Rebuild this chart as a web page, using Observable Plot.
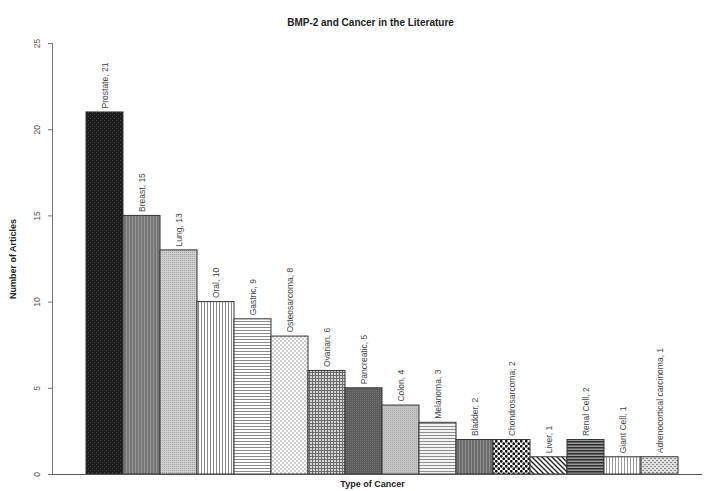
<!DOCTYPE html>
<html>
<head>
<meta charset="utf-8">
<script src="https://cdn.jsdelivr.net/npm/d3@7"></script>
<script src="https://cdn.jsdelivr.net/npm/@observablehq/plot@0.6"></script>
<style>
  body { margin: 0; background: #fff; }
  svg { font-family: "Liberation Sans", Arial, sans-serif; }
</style>
</head>
<body>
<div id="chart"></div>
<script>
const cancers = ["Prostate", "Breast", "Lung", "Oral", "Gastric", "Osteosarcoma", "Ovarian", "Pancreatic",
  "Colon", "Melanoma", "Bladder", "Chondrosarcoma", "Liver", "Renal Cell", "Giant Cell", "Adrenocortical carcinoma"];
const articles = [21, 15, 13, 10, 9, 8, 6, 5, 4, 3, 2, 2, 1, 2, 1, 1];
const yTicks = [0, 5, 10, 15, 20, 25];
const patternIds = cancers.map((_, i) => `pat${i}`);

const data = cancers.map((name, i) => ({name, count: articles[i], pattern: `url(#${patternIds[i]})`}));

const svg = Plot.plot({
  width: 706,
  height: 491,
  marginTop: 43,
  marginBottom: 17,
  marginLeft: 52,
  marginRight: 4,
  style: {background: "#fff", fontFamily: "Liberation Sans, Arial, sans-serif"},
  x: {type: "band", domain: cancers, range: [82, 682], padding: 0, axis: null},
  y: {domain: [0, 25], axis: null},
  color: {type: "identity"},
  marks: [
    Plot.barY(data, {x: "name", y: "count", fill: "pattern", stroke: "#333", strokeWidth: 1}),
    Plot.text(data, {x: "name", y: "count", text: d => `${d.name}, ${d.count}`, rotate: -90,
      textAnchor: "start", dy: -4, fontSize: 8.5, fill: "#444"}),
    Plot.frame({anchor: "left", stroke: "#777"}),
    Plot.ruleY([0], {stroke: "#555"}),
    Plot.axisY(yTicks, {tickSize: 4, tickFormat: () => "", label: null, stroke: "#777"}),
    Plot.text(yTicks, {y: d => d, frameAnchor: "left", dx: -15, rotate: -90, textAnchor: "middle",
      fontSize: 8.5, fill: "#555"}),
    Plot.text(["Number of Articles"], {frameAnchor: "left", dx: -39, rotate: -90, textAnchor: "middle",
      fontSize: 9, fontWeight: "bold", fill: "#222"}),
    Plot.text(["BMP-2 and Cancer in the Literature"], {frameAnchor: "top", dy: -25, dx: -7,
      fontSize: 10, fontWeight: "bold", fill: "#222"}),
    Plot.text(["Type of Cancer"], {frameAnchor: "bottom", dy: 12, dx: -5,
      fontSize: 9, fontWeight: "bold", fill: "#222"})
  ]
});

// pattern definitions
const defs = d3.select(svg).insert("defs", ":first-child");
function pat(id, w, h, bg, draw) {
  const p = defs.append("pattern").attr("id", id).attr("patternUnits", "userSpaceOnUse")
    .attr("width", w).attr("height", h);
  p.append("rect").attr("width", w).attr("height", h).attr("fill", bg);
  draw(p);
}
const rect = (p, x, y, w, h, c) => p.append("rect").attr("x", x).attr("y", y).attr("width", w).attr("height", h).attr("fill", c);

// 0 Prostate: near-black with fine dots
pat(patternIds[0], 4, 4, "#1b1b1b", p => { rect(p, 0, 0, 1, 1, "#4c4c4c"); rect(p, 2, 2, 1, 1, "#4c4c4c"); });
// 1 Breast: medium gray fine vertical
pat(patternIds[1], 3, 3, "#777", p => { rect(p, 0, 0, 1, 3, "#959595"); });
// 2 Lung: light gray fine stipple
pat(patternIds[2], 2, 2, "#cfcfcf", p => { rect(p, 0, 0, 1, 1, "#a6a6a6"); });
// 3 Oral: vertical lines on white
pat(patternIds[3], 3, 3, "#fff", p => { rect(p, 0, 0, 1, 3, "#8a8a8a"); });
// 4 Gastric: horizontal lines on white
pat(patternIds[4], 3, 3, "#fff", p => { rect(p, 0, 0, 3, 1, "#8a8a8a"); });
// 5 Osteosarcoma: light sparse checker dots
pat(patternIds[5], 4, 4, "#fff", p => { rect(p, 0, 0, 2, 2, "#cdcdcd"); rect(p, 2, 2, 2, 2, "#cdcdcd"); });
// 6 Ovarian: grid
pat(patternIds[6], 3, 3, "#d6d6d6", p => { rect(p, 0, 0, 1, 3, "#6a6a6a"); rect(p, 0, 0, 3, 1, "#6a6a6a"); });
// 7 Pancreatic: dark gray fine
pat(patternIds[7], 2, 2, "#5c5c5c", p => { rect(p, 0, 0, 1, 1, "#747474"); });
// 8 Colon: light gray fine
pat(patternIds[8], 2, 2, "#c4c4c4", p => { rect(p, 0, 0, 1, 1, "#aaaaaa"); });
// 9 Melanoma: horizontal lines
pat(patternIds[9], 3, 3, "#f2f2f2", p => { rect(p, 0, 0, 3, 1, "#8c8c8c"); });
// 10 Bladder: dark gray vertical
pat(patternIds[10], 3, 3, "#6c6c6c", p => { rect(p, 0, 0, 1, 3, "#8e8e8e"); });
// 11 Chondrosarcoma: checkerboard
pat(patternIds[11], 5, 5, "#fff", p => {
  p.append("circle").attr("cx", 1.25).attr("cy", 1.25).attr("r", 1.4).attr("fill", "#111");
  p.append("circle").attr("cx", 3.75).attr("cy", 3.75).attr("r", 1.4).attr("fill", "#111");
});
// 12 Liver: diagonal lines "\"
pat(patternIds[12], 5, 5, "#fff", p => {
  p.append("path").attr("d", "M-1,-1L6,6M-1,4L1,6M4,-1L6,1").attr("stroke", "#222").attr("stroke-width", 1.4);
});
// 13 Renal Cell: dark horizontal lines
pat(patternIds[13], 3, 3, "#9a9a9a", p => { rect(p, 0, 0, 3, 1.5, "#2e2e2e"); });
// 14 Giant Cell: vertical lines spaced
pat(patternIds[14], 3, 3, "#fff", p => { rect(p, 0, 0, 1, 3, "#999"); });
// 15 Adrenocortical: cobblestone dots
pat(patternIds[15], 4, 4, "#e0e0e0", p => { rect(p, 0, 0, 2, 1, "#8a8a8a"); rect(p, 2, 2, 2, 1, "#8a8a8a"); });

document.getElementById("chart").appendChild(svg);
</script>
</body>
</html>
